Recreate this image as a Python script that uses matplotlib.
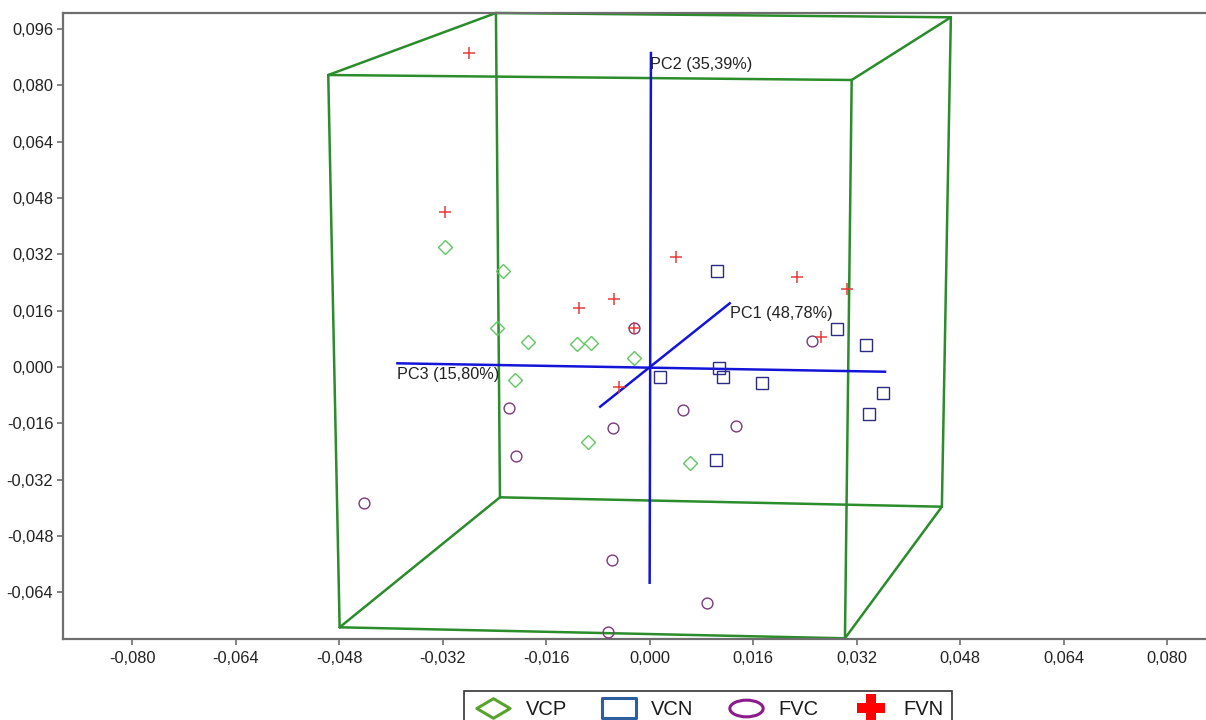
import matplotlib
matplotlib.use("Agg")
import matplotlib.pyplot as plt
from matplotlib.lines import Line2D
from matplotlib.path import Path
from matplotlib.transforms import Affine2D
from matplotlib.ticker import FuncFormatter

plt.rcParams['font.family'] = ['Liberation Sans', 'DejaVu Sans']

# ---------------- data ----------------
vcp_x = [-0.03161, -0.02272, -0.02365, -0.01876, -0.01121, -0.00905, -0.00243, -0.02082, -0.00956, 0.00629]
vcp_y = [0.03419, 0.02728, 0.01117, 0.00702, 0.00654, 0.00673, 0.00247, -0.00369, -0.02140, -0.02720]

vcn_x = [0.01047, 0.02890, 0.03344, 0.01067, 0.01135, 0.00164, 0.01729, 0.03614, 0.03391, 0.01032]
vcn_y = [0.02737, 0.01071, 0.00625, -0.00020, -0.00276, -0.00276, -0.00446, -0.00730, -0.01344, -0.02643]

fvc_x = [-0.00249, 0.02503, -0.02170, 0.00513, -0.00568, 0.01331, -0.02066, -0.04416, -0.00584, 0.00892, -0.00646]
fvc_y = [0.01117, 0.00739, -0.01174, -0.01222, -0.01742, -0.01668, -0.02521, -0.03873, -0.05485, -0.06698, -0.07531]

fvn_x = [-0.02790, -0.03166, 0.00412, 0.02271, 0.03045, -0.00544, -0.01086, -0.00239, 0.02647, -0.00476]
fvn_y = [0.08914, 0.04413, 0.03134, 0.02549, 0.02208, 0.01924, 0.01668, 0.01108, 0.00844, -0.00560]

# projected bounding cube corners: front TL, TR, BR, BL, back TL, TR, BR, BL
box_x = [-0.04968, 0.03123, 0.03019, -0.04792, -0.02376, 0.04656, 0.04517, -0.02314]
box_y = [0.08298, 0.08156, -0.07710, -0.07397, 0.10060, 0.09938, -0.03970, -0.03703]
box_edges = [(0, 1), (1, 2), (2, 3), (3, 0), (4, 5), (5, 6), (6, 7), (7, 4),
             (0, 4), (1, 5), (2, 6), (3, 7)]

# principal component axes (start / end points)
pc_names = ['PC1 (48,78%)', 'PC2 (35,39%)', 'PC3 (15,80%)']
pc_x0 = [-0.00765, 0.00000, -0.03899]
pc_y0 = [-0.01128, -0.06130, 0.00105]
pc_x1 = [0.01238, 0.00020, 0.03638]
pc_y1 = [0.01810, 0.08923, -0.00134]
pc_lab_x = [0.01240, -0.00002, -0.03899]
pc_lab_y = [0.01526, 0.08600, -0.00199]

x_ticks = [-0.080, -0.064, -0.048, -0.032, -0.016, 0.0, 0.016, 0.032, 0.048, 0.064, 0.080]
y_ticks = [-0.064, -0.048, -0.032, -0.016, 0.0, 0.016, 0.032, 0.048, 0.064, 0.080, 0.096]

# ---------------- figure ----------------
W, H = 1206, 720
fig = plt.figure(figsize=(W / 100, H / 100), dpi=100)
ax = fig.add_axes([63 / W, 1 - 638.7 / H, 1 - 63 / W + 0.002, (638.7 - 13) / H])
ax.set_xlim(-0.09068, 0.08637)
ax.set_ylim(-0.07721, 0.10060)

green_box = '#2a8c2a'
for i, j in box_edges:
    ax.plot([box_x[i], box_x[j]], [box_y[i], box_y[j]], color=green_box, lw=1.8,
            solid_capstyle='round', zorder=2, clip_on=False)

for k in range(3):
    ax.plot([pc_x0[k], pc_x1[k]], [pc_y0[k], pc_y1[k]], color='#1414d8', lw=1.8, zorder=3)
    ax.text(pc_lab_x[k], pc_lab_y[k], pc_names[k], ha='left', va='center',
            fontsize=11.7, color='#222222', zorder=5)

ax.plot(vcp_x, vcp_y, ls='none', marker='D', ms=7.5, mfc='none', mec='#5fc85f', mew=1.0, zorder=4)
ax.plot(vcn_x, vcn_y, ls='none', marker='s', ms=8.5, mfc='none', mec='#2b2b86', mew=1.0, zorder=4)
ax.plot(fvc_x, fvc_y, ls='none', marker='o', ms=7.8, mfc='none', mec='#7a3a7a', mew=1.0, zorder=4)
ax.plot(fvn_x, fvn_y, ls='none', marker='+', ms=9, mec='#e83a3a', mew=1.1, zorder=4)

ax.set_xticks(x_ticks)
ax.set_yticks(y_ticks)
fmt = FuncFormatter(lambda v, p: ('%.3f' % v).replace('.', ',').replace('-0,000', '0,000'))
ax.xaxis.set_major_formatter(fmt)
ax.yaxis.set_major_formatter(fmt)
ax.tick_params(axis='both', direction='out', length=4, width=1.2, color='#6e6e6e',
               labelsize=11.8, labelcolor='#222222', pad=3)
ax.tick_params(axis='x', pad=5)
for s in ['left', 'bottom', 'top']:
    ax.spines[s].set_color('#6e6e6e')
    ax.spines[s].set_linewidth(1.6)
ax.spines['right'].set_visible(False)

# ---------------- legend ----------------
diam_marker = Path([(-0.85, 0), (0, 0.5), (0.85, 0), (0, -0.5), (-0.85, 0)],
                   [Path.MOVETO, Path.LINETO, Path.LINETO, Path.LINETO, Path.CLOSEPOLY])
rect_marker = Path([(-0.85, -0.5), (0.85, -0.5), (0.85, 0.5), (-0.85, 0.5), (-0.85, -0.5)],
                   [Path.MOVETO, Path.LINETO, Path.LINETO, Path.LINETO, Path.CLOSEPOLY])
ell_marker = Path.unit_circle().transformed(Affine2D().scale(1.0, 0.5))
handles = [
    Line2D([], [], ls='none', marker=diam_marker, ms=24, mfc='none', mec='#5aa22e', mew=2.2),
    Line2D([], [], ls='none', marker=rect_marker, ms=25, mfc='none', mec='#2d5f9e', mew=2.2),
    Line2D([], [], ls='none', marker=ell_marker, ms=24, mfc='none', mec='#8c1c8c', mew=2.2),
    Line2D([], [], ls='none', marker='P', ms=20, mfc='#ff0000', mec='#ff0000', mew=0),
]
labels = ['VCP', 'VCN', 'FVC', 'FVN']
leg = fig.legend(handles, labels, loc='upper left', bbox_to_anchor=(464 / W, 1 - 691 / H),
                 borderaxespad=0, ncol=4, frameon=True, fancybox=False, edgecolor='black',
                 fontsize=14.5, handlelength=2.0, handletextpad=0.6, columnspacing=1.6,
                 borderpad=0.45, labelcolor='#1a1a1a')
leg.get_frame().set_linewidth(1.2)

fig.savefig('out.png', dpi=100)
